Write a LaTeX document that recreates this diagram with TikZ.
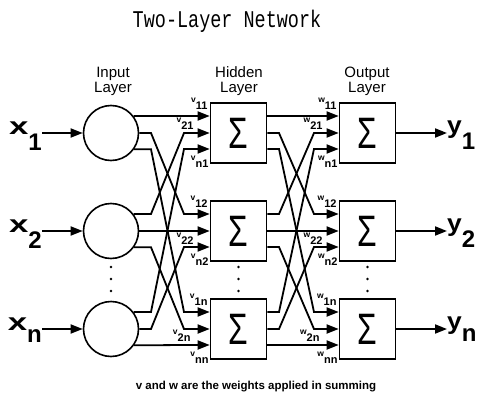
\documentclass[tikz,border=0pt]{standalone}
\usepackage{fontspec}
\setmainfont{Liberation Sans}
\newfontfamily\titlefont{Liberation Mono}
\usepackage{graphicx}
\usetikzlibrary{arrows.meta,calc}

\newcommand{\wlab}[2]{\raisebox{7pt}{\fontsize{8.5}{8.5}\selectfont #1}{\fontsize{11}{11}\selectfont #2}}
\newcommand{\iolab}[3]{\scalebox{#3}[1]{#1}\raisebox{-\height}{#2}}

\tikzset{
  neuron/.style={draw, circle, line width=1.6pt, minimum size=55pt, inner sep=0pt},
  sumbox/.style={draw, line width=1.6pt, minimum width=56pt, minimum height=60pt, inner sep=0pt,
    font=\fontsize{44}{44}\selectfont},
  wire/.style={line width=1.8pt},
  arr/.style={wire, -{Triangle[length=12pt,width=9pt]}},
  layer/.style={align=center, font=\fontsize{15}{15}\selectfont},
  wt/.style={anchor=east, inner sep=0pt, font=\bfseries},
  io/.style={inner sep=0pt, font=\bfseries\fontsize{24}{24}\selectfont},
  dot/.style={fill, circle, inner sep=0pt, minimum size=2.6pt},
}

\begin{document}
\begin{tikzpicture}[x=1pt, y=-1pt]
\useasboundingbox (0,0) rectangle (481,393);

\node[font=\titlefont\fontsize{24}{24}\selectfont] (title) at (227,21) {\scalebox{0.77}[1]{Two-Layer Network}};

\node[layer] (inlab) at (113,81) {Input\\Layer};
\node[layer] (hidlab) at (239,81) {Hidden\\Layer};
\node[layer] (outlab) at (367,81) {Output\\Layer};

% the three rows: 1, 2 and n
\foreach \r/\yy in {1/133, 2/231, n/329} {
  \node[neuron] (in\r) at (111,\yy) {};
  \node[sumbox] (hid\r) at (238.5,\yy) {\scalebox{0.72}[1]{Σ}};
  \node[sumbox] (out\r) at (367.5,\yy) {\scalebox{0.72}[1]{Σ}};
  \node[io, anchor=base east] (x\r) at (42,\yy+1) {\iolab{x}{\r}{1.45}};
  \node[io, anchor=base west] (y\r) at (447,\yy) {\iolab{y}{\r}{1.1}};
  \draw[arr] (x\r.east |- in\r.west) -- (in\r.west);
  \draw[arr] (out\r.east) -- (y\r.west |- out\r.east);
}

\coordinate (b1) at (151,0);
\coordinate (b2) at (184,0);
\coordinate (b3) at (279,0);
\coordinate (b4) at (314,0);

% crossed connections
\foreach \i/\oi/\ai in {1/-17/37, 2/0/0, n/16/-35}
  \foreach \j/\oj/\aj in {1/-17/37, 2/0/0, n/16/-35} {
    \coordinate (s) at (in\i.\aj);
    \coordinate (t) at ($(hid\j.west)+(0,\oi)$);
    \draw[arr] (s) -- (b1 |- s) -- (b2 |- t) -- (t);
    \coordinate (s) at ($(hid\i.east)+(0,\oj)$);
    \coordinate (t) at ($(out\j.west)+(0,\oi)$);
    \draw[arr] (s) -- (b3 |- s) -- (b4 |- t) -- (t);
  }

% weights
\foreach \i/\j/\dx/\dy in {1/1/-2/-29, 2/1/-16/-9, n/1/-1/29,
                           1/2/-2/-29, 2/2/-16/8, n/2/-1/29,
                           1/n/-2/-29, 2/n/-19/7, n/n/-1/29} {
  \node[wt] (v\i\j) at ($(hid\j.west)+(\dx,\dy)$) {\wlab{v}{\i\j}};
  \node[wt] (w\i\j) at ($(out\j.west)+(\dx,\dy)$) {\wlab{w}{\i\j}};
}

\foreach \c in {in,hid,out}
  \foreach \dd in {36,48,60}
    \node[dot] (\c dot\dd) at ($(\c2.center)+(0,\dd)$) {};

\node[font=\bfseries\fontsize{11.5}{11.5}\selectfont] (note) at (256,387) {v and w are the weights applied in summing};
\end{tikzpicture}
\end{document}
